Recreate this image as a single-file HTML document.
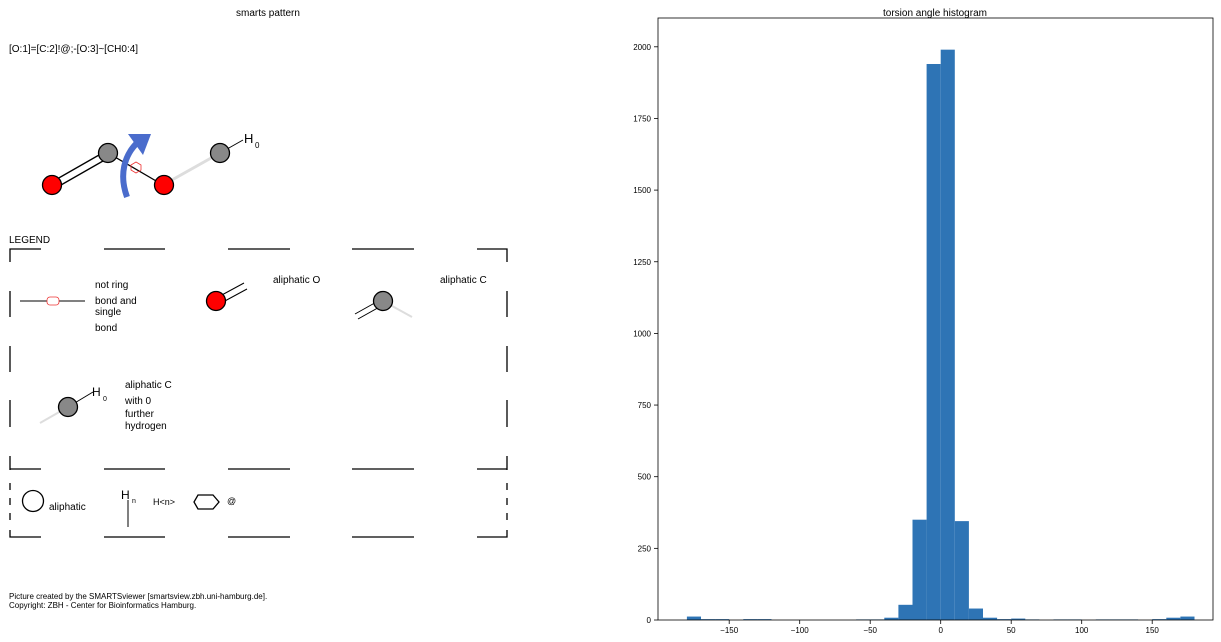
<!DOCTYPE html>
<html><head><meta charset="utf-8"><style>
body{margin:0;background:#fff;font-family:"Liberation Sans",sans-serif;}
svg text{font-family:"Liberation Sans","DejaVu Sans",sans-serif;}
</style></head><body>
<svg width="1221" height="637" viewBox="0 0 1221 637">
<g>
<text x="268" y="16" font-size="10" text-anchor="middle">smarts pattern</text>
<text x="9" y="52" font-size="10">[O:1]=[C:2]!@;-[O:3]~[CH0:4]</text>
<g>
<line x1="163" y1="185" x2="220" y2="153" stroke="#ddd" stroke-width="3"/>
<line x1="50" y1="183" x2="106" y2="151" stroke="#000" stroke-width="1.3"/>
<line x1="54" y1="189" x2="110" y2="157" stroke="#000" stroke-width="1.3"/>
<line x1="108" y1="153" x2="163" y2="185" stroke="#000" stroke-width="1.3"/>
<line x1="220" y1="153" x2="243" y2="140" stroke="#000" stroke-width="1"/>
<polygon points="131,165 136,162 141,165 141,170 136,173 131,170" fill="none" stroke="#e33" stroke-width="0.8"/>
<circle cx="52" cy="185" r="9.5" fill="#f00" stroke="#000" stroke-width="1.3"/>
<circle cx="108" cy="153" r="9.5" fill="#888" stroke="#000" stroke-width="1.3"/>
<circle cx="164" cy="185" r="9.5" fill="#f00" stroke="#000" stroke-width="1.3"/>
<circle cx="220" cy="153" r="9.5" fill="#888" stroke="#000" stroke-width="1.3"/>
<text x="244" y="143" font-size="13">H</text><text x="255" y="148" font-size="8">0</text>
<path d="M127,197 C119,175 124,155 138,142" fill="none" stroke="#4a6ccc" stroke-width="6"/>
<polygon points="128,134 151,134 143,155" fill="#4a6ccc"/>
</g>
<g>
<text x="9" y="243" font-size="10">LEGEND</text>
<g stroke="#000" stroke-width="1.3" fill="none">
<path d="M10,262 V249 H41 M104,249 H165 M228,249 H290 M352,249 H414 M477,249 H507 V262"/>
<path d="M10,291 V317 M507,291 V317 M10,346 V372 M507,346 V372 M10,400 V427 M507,400 V427 M10,456 V470 M507,456 V470"/>
<path d="M10,469 H41 M104,469 H165 M228,469 H290 M352,469 H414 M477,469 H507"/>
<path d="M10,483 V490 M10,498 V505 M10,513 V520 M507,483 V490 M507,498 V505 M507,513 V520"/>
<path d="M10,530 V537 H41 M104,537 H165 M228,537 H290 M352,537 H414 M477,537 H507 V530"/>
</g>
<line x1="20" y1="301" x2="85" y2="301" stroke="#000" stroke-width="1"/>
<rect x="47" y="297" width="12" height="8" rx="3" fill="#fff" stroke="#e33" stroke-width="0.8"/>
<text font-size="10"><tspan x="95" y="288">not ring</tspan><tspan x="95" y="304">bond and</tspan><tspan x="95" y="315">single</tspan><tspan x="95" y="331">bond</tspan></text>
<line x1="220" y1="296" x2="244" y2="283" stroke="#000" stroke-width="1"/><line x1="223" y1="302" x2="247" y2="289" stroke="#000" stroke-width="1"/>
<circle cx="216" cy="301" r="9.5" fill="#f00" stroke="#000" stroke-width="1.3"/>
<text x="273" y="283" font-size="10">aliphatic O</text>
<line x1="383" y1="301" x2="412" y2="317" stroke="#ddd" stroke-width="2"/>
<line x1="355" y1="314" x2="380" y2="300" stroke="#000" stroke-width="1"/><line x1="358" y1="319" x2="383" y2="305" stroke="#000" stroke-width="1"/>
<circle cx="383" cy="301" r="9.5" fill="#888" stroke="#000" stroke-width="1.3"/>
<text x="440" y="283" font-size="10">aliphatic C</text>
<line x1="40" y1="423" x2="68" y2="407" stroke="#ddd" stroke-width="2"/>
<line x1="68" y1="407" x2="93" y2="392" stroke="#000" stroke-width="1"/>
<circle cx="68" cy="407" r="9.5" fill="#888" stroke="#000" stroke-width="1.3"/>
<text x="92" y="396" font-size="12">H</text><text x="103" y="401" font-size="7">0</text>
<text font-size="10"><tspan x="125" y="388">aliphatic C</tspan><tspan x="125" y="404">with 0</tspan><tspan x="125" y="417">further</tspan><tspan x="125" y="429">hydrogen</tspan></text>
<circle cx="33" cy="501" r="10.5" fill="#fff" stroke="#000" stroke-width="1.3"/>
<text x="49" y="510" font-size="10">aliphatic</text>
<text x="121" y="499" font-size="12">H</text><text x="132" y="503" font-size="7">n</text>
<line x1="128" y1="500" x2="128" y2="527" stroke="#000" stroke-width="1"/>
<text x="153" y="505" font-size="9">H&lt;n&gt;</text>
<polygon points="198,495 213,495 219,502 213,509 198,509 194,502" fill="#fff" stroke="#000" stroke-width="1.3"/>
<text x="227" y="504" font-size="9">@</text>
</g>
<text font-size="8"><tspan x="9" y="599">Picture created by the SMARTSviewer [smartsview.zbh.uni-hamburg.de].</tspan><tspan x="9" y="608">Copyright: ZBH - Center for Bioinformatics Hamburg.</tspan></text>
</g>
<g id="hist">
<text x="935" y="16" font-size="10" text-anchor="middle">torsion angle histogram</text>
</g>
</svg>
<script>
const binStarts=[-180,-170,-160,-150,-140,-130,-120,-110,-100,-90,-80,-70,-60,-50,-40,-30,-20,-10,0,10,20,30,40,50,60,70,80,90,100,110,120,130,140,150,160,170];
const counts=[12,3,3,0,3,3,0,0,0,0,0,0,2,2,8,53,350,1940,1990,345,40,8,3,5,2,0,2,2,0,2,2,2,0,3,8,12];
const xTicks=[-150,-100,-50,0,50,100,150];
const xTickLabels=["\u2212150","\u2212100","\u221250","0","50","100","150"];
const yTicks=[0,250,500,750,1000,1250,1500,1750,2000];
const binWidth=10;
const NS="http://www.w3.org/2000/svg";
const g=document.getElementById('hist');
const X=v=>940.7+(v)*1.41;
const Y=v=>620-v*0.2866;
function mk(t,a){const e=document.createElementNS(NS,t);for(const k in a)e.setAttribute(k,a[k]);g.appendChild(e);return e;}
counts.forEach((c,i)=>{
 const r=mk('rect',{x:X(binStarts[i]),y:Y(c),width:binWidth*1.41,height:620-Y(c),fill:'#2e74b5'});
 
 
});
const fr=mk('rect',{x:658,y:18,width:555,height:602,fill:'none',stroke:'#000','stroke-width':0.8});


xTicks.forEach((v,i)=>{
 mk('line',{x1:X(v),x2:X(v),y1:620,y2:624,stroke:'#000','stroke-width':0.8});
 const t=mk('text',{x:X(v),y:633,'font-size':8,'text-anchor':'middle'});t.textContent=xTickLabels[i];
 
 
});
yTicks.forEach(v=>{
 mk('line',{x1:654,x2:658,y1:Y(v),y2:Y(v),stroke:'#000','stroke-width':0.8});
 const t=mk('text',{x:651,y:Y(v)+3,'font-size':8,'text-anchor':'end'});t.textContent=v;
 
 
});
</script>
</body></html>
